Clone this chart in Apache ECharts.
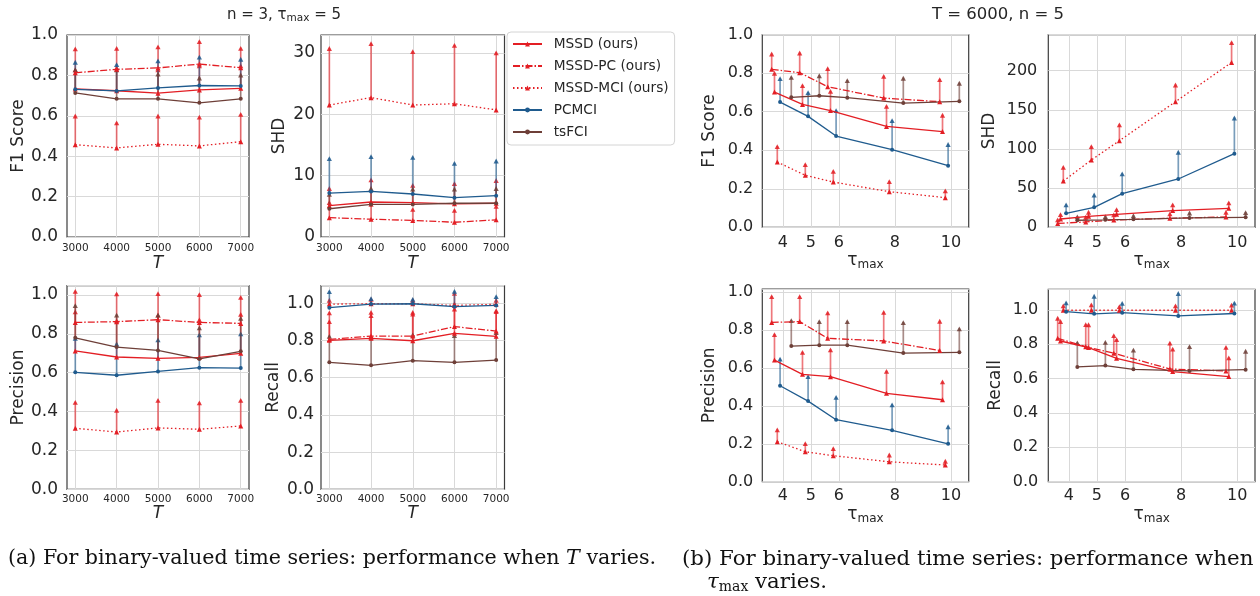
<!DOCTYPE html>
<html><head><meta charset="utf-8">
<script src="https://cdn.jsdelivr.net/npm/echarts@6/dist/echarts.min.js"></script>
<style>html,body{margin:0;padding:0;background:#fff}#c{width:1260px;height:596px}</style>
</head><body><div id="c"></div>
<script>
// ---------------- DATA ----------------
const METHODS = ['MSSD (ours)', 'MSSD-PC (ours)', 'MSSD-MCI (ours)', 'PCMCI', 'tsFCI'];
const T_VALUES = [3000, 4000, 5000, 6000, 7000];
const TAU_VALUES = [4, 5, 6, 8, 10];
const T_TICKS = [3000, 4000, 5000, 6000, 7000];
const TAU_TICKS = [4, 5, 6, 8, 10];
const TAU_OFFSET = [-0.3, -0.4, -0.2, -0.1, 0.3]; // per-method horizontal dodge (tau units)

// (a) T varies, n = 3, tau_max = 5 ; rows = METHODS, cols = T_VALUES
const T_F1_MEAN = [
  [0.733, 0.724, 0.712, 0.728, 0.736],
  [0.813, 0.830, 0.837, 0.856, 0.838],
  [0.457, 0.441, 0.459, 0.451, 0.472],
  [0.731, 0.723, 0.738, 0.750, 0.748],
  [0.713, 0.684, 0.684, 0.664, 0.684]
];
const T_F1_UPPER = [
  [0.830, 0.840, 0.830, 0.850, 0.850],
  [0.934, 0.937, 0.944, 0.970, 0.937],
  [0.602, 0.568, 0.602, 0.596, 0.610],
  [0.868, 0.856, 0.875, 0.893, 0.883],
  [0.830, 0.830, 0.810, 0.790, 0.805]
];
const T_SHD_MEAN = [
  [5.1, 5.7, 5.6, 5.4, 5.5],
  [3.15, 2.9, 2.7, 2.4, 2.8],
  [21.5, 22.7, 21.5, 21.7, 20.7],
  [7.16, 7.43, 7.0, 6.4, 6.73],
  [4.6, 5.3, 5.3, 5.5, 5.5]
];
const T_SHD_UPPER = [
  [8.0, 9.4, 8.5, 8.8, 9.3],
  [5.7, 5.4, 4.6, 4.45, 5.1],
  [30.8, 31.6, 30.3, 31.3, 30.1],
  [12.86, 13.2, 13.08, 12.1, 12.48],
  [7.05, 8.0, 7.9, 7.9, 8.0]
];
const T_PREC_MEAN = [
  [0.712, 0.681, 0.674, 0.679, 0.700],
  [0.859, 0.863, 0.873, 0.859, 0.854],
  [0.314, 0.295, 0.316, 0.309, 0.326],
  [0.602, 0.587, 0.607, 0.626, 0.624],
  [0.780, 0.732, 0.715, 0.671, 0.710]
];
const T_PREC_UPPER = [
  [0.916, 0.870, 0.900, 0.875, 0.904],
  [1.022, 1.009, 1.010, 1.005, 0.991],
  [0.451, 0.410, 0.461, 0.448, 0.461],
  [0.780, 0.751, 0.772, 0.798, 0.803],
  [0.949, 0.900, 0.900, 0.834, 0.883]
];
const T_REC_MEAN = [
  [0.801, 0.812, 0.799, 0.839, 0.823],
  [0.806, 0.824, 0.824, 0.875, 0.851],
  [0.996, 0.998, 0.998, 0.989, 0.995],
  [0.977, 0.996, 0.998, 0.982, 0.989],
  [0.683, 0.667, 0.692, 0.683, 0.695]
];
const T_REC_UPPER = [
  [0.905, 0.937, 0.946, 0.973, 0.964],
  [0.952, 0.955, 0.955, 1.000, 0.959],
  [1.020, 1.025, 1.020, 1.057, 1.020],
  [1.066, 1.029, 1.025, 1.068, 1.039],
  [0.826, 0.820, 0.833, 0.830, 0.846]
];

// (b) tau_max varies, T = 6000, n = 5 ; rows = METHODS, cols = TAU_VALUES
const TAU_F1_MEAN = [
  [0.702, 0.638, 0.606, 0.524, 0.497],
  [0.820, 0.803, 0.730, 0.671, 0.652],
  [0.339, 0.270, 0.235, 0.185, 0.154],
  [0.650, 0.576, 0.474, 0.403, 0.320],
  [0.675, 0.683, 0.673, 0.645, 0.654]
];
const TAU_F1_UPPER = [
  [0.803, 0.739, 0.709, 0.631, 0.585],
  [0.903, 0.908, 0.827, 0.787, 0.770],
  [0.422, 0.329, 0.294, 0.240, 0.192],
  [0.775, 0.702, 0.609, 0.557, 0.433],
  [0.782, 0.790, 0.765, 0.777, 0.751]
];
const TAU_SHD_MEAN = [
  [10.6, 14.0, 16.6, 21.3, 24.3],
  [5.0, 6.8, 9.4, 11.5, 13.2],
  [59, 86, 110.6, 160.4, 210.6],
  [17.9, 25.5, 43, 61.7, 94],
  [9.0, 9.5, 10.2, 12.0, 12.8]
];
const TAU_SHD_UPPER = [
  [17, 20, 23.4, 29.4, 32],
  [10.2, 13.6, 16.6, 17.9, 20],
  [77.4, 103.8, 131.5, 182.5, 236.6],
  [29.4, 42, 69, 96.6, 140.4],
  [14, 14.5, 15.5, 19, 19.5]
];
const TAU_PREC_MEAN = [
  [0.641, 0.566, 0.554, 0.466, 0.432],
  [0.840, 0.844, 0.756, 0.742, 0.692],
  [0.211, 0.158, 0.137, 0.105, 0.088],
  [0.506, 0.425, 0.327, 0.271, 0.200],
  [0.715, 0.720, 0.720, 0.678, 0.682]
];
const TAU_PREC_UPPER = [
  [0.779, 0.685, 0.698, 0.585, 0.529],
  [0.979, 0.979, 0.893, 0.896, 0.849],
  [0.276, 0.204, 0.178, 0.144, 0.111],
  [0.649, 0.557, 0.448, 0.408, 0.293],
  [0.852, 0.847, 0.847, 0.842, 0.809]
];
const TAU_REC_MEAN = [
  [0.819, 0.781, 0.718, 0.641, 0.612],
  [0.835, 0.786, 0.748, 0.656, 0.645],
  [0.998, 0.998, 0.998, 0.998, 0.998],
  [0.990, 0.977, 0.984, 0.965, 0.979],
  [0.668, 0.676, 0.654, 0.645, 0.652]
];
const TAU_REC_UPPER = [
  [0.936, 0.917, 0.831, 0.775, 0.724],
  [0.955, 0.918, 0.854, 0.810, 0.785],
  [1.027, 1.033, 1.023, 1.027, 1.031],
  [1.045, 1.083, 1.041, 1.099, 1.043],
  [0.812, 0.814, 0.769, 0.790, 0.763]
];

// ---------------- STYLE / LAYOUT ----------------
const RED = '#e31e24', BLUE = '#1f5b8e', BROWN = '#6e3f38';
const M_STYLE = [
  {color: RED, dash: 'solid', symbol: 'triangle'},
  {color: RED, dash: [7, 2, 1.5, 2], symbol: 'triangle'},
  {color: RED, dash: [1.5, 2.5], symbol: 'triangle'},
  {color: BLUE, dash: 'solid', symbol: 'circle'},
  {color: BROWN, dash: 'solid', symbol: 'circle'}
];
const FONT = 'DejaVu Sans';
const TXT = '#262626';

const PANELS = [
  {grid: {left: 67, top: 35, width: 182, height: 202}, xs: 'T', mean: T_F1_MEAN, upper: T_F1_UPPER, name: 'F1 Score', ymax: 1.0, yint: 0.2, dec: 1, nameGap: 40, labMargin: 9},
  {grid: {left: 321, top: 35, width: 183.5, height: 202}, xs: 'T', mean: T_SHD_MEAN, upper: T_SHD_UPPER, name: 'SHD', ymax: 32.9, yint: 10, dec: 0, nameGap: 33, labMargin: 6},
  {grid: {left: 67, top: 285.7, width: 182, height: 203.6}, xs: 'T', mean: T_PREC_MEAN, upper: T_PREC_UPPER, name: 'Precision', ymax: 1.048, yint: 0.2, dec: 1, nameGap: 40, labMargin: 9},
  {grid: {left: 321, top: 285.7, width: 183.5, height: 203.6}, xs: 'T', mean: T_REC_MEAN, upper: T_REC_UPPER, name: 'Recall', ymax: 1.095, yint: 0.2, dec: 1, nameGap: 39, labMargin: 7},
  {grid: {left: 762.3, top: 34.7, width: 206.4, height: 192.6}, xs: 'tau', mean: TAU_F1_MEAN, upper: TAU_F1_UPPER, name: 'F1 Score', ymax: 1.0, yint: 0.2, dec: 1, nameGap: 44, labMargin: 9},
  {grid: {left: 1048.3, top: 34.7, width: 206.7, height: 192.6}, xs: 'tau', mean: TAU_SHD_MEAN, upper: TAU_SHD_UPPER, name: 'SHD', ymax: 246, yint: 50, dec: 0, nameGap: 50, labMargin: 11},
  {grid: {left: 762.3, top: 289, width: 206.4, height: 192.7}, xs: 'tau', mean: TAU_PREC_MEAN, upper: TAU_PREC_UPPER, name: 'Precision', ymax: 1.016, yint: 0.2, dec: 1, nameGap: 44, labMargin: 9},
  {grid: {left: 1048.3, top: 289.3, width: 206.7, height: 192.4}, xs: 'tau', mean: TAU_REC_MEAN, upper: TAU_REC_UPPER, name: 'Recall', ymax: 1.12, yint: 0.2, dec: 1, nameGap: 44, labMargin: 10}
];

function errRender(color) {
  return function (params, api) {
    const x = api.value(0), y0 = api.value(1), y1 = api.value(2);
    const p0 = api.coord([x, y0]);
    const p1 = api.coord([x, y1]);
    return {
      type: 'group',
      children: [
        {type: 'line', shape: {x1: p0[0], y1: p0[1], x2: p1[0], y2: p1[1]},
          style: {stroke: color, lineWidth: 1.7, opacity: 0.6}},
        {type: 'polygon', shape: {points: [[p1[0] - 2.6, p1[1] + 3], [p1[0], p1[1] - 1.8], [p1[0] + 2.6, p1[1] + 3]]},
          style: {fill: color, opacity: 0.85}}
      ]
    };
  };
}

const grids = [], xAxes = [], yAxes = [], series = [];
PANELS.forEach((P, gi) => {
  grids.push(Object.assign({show: true, borderColor: '#3c3c3c', borderWidth: 1.2, backgroundColor: 'transparent'}, P.grid));
  const isT = P.xs === 'T';
  const ticks = isT ? T_TICKS : TAU_TICKS;
  xAxes.push({
    type: 'value', gridIndex: gi,
    min: isT ? 2800 : 3.265, max: isT ? 7200 : 10.635,
    axisLine: {show: false}, axisTick: {show: false, customValues: ticks},
    axisLabel: {customValues: ticks, fontSize: isT ? 10.5 : 16, fontFamily: FONT, color: TXT,
      margin: isT ? (gi < 2 ? 6 : 4) : (gi < 6 ? 8 : 6),
      formatter: function (v) { return String(v); }},
    splitLine: {show: true, lineStyle: {color: '#d9d9d9', width: 1}},
    name: isT ? 'T' : '{t|τ}{s|max}', nameLocation: 'middle',
    nameGap: isT ? (gi < 2 ? 13 : 12) : (gi < 6 ? 20 : 22),
    nameTextStyle: isT ? {fontSize: 17, fontStyle: 'italic', fontFamily: FONT, color: TXT}
      : {color: TXT, fontFamily: FONT, rich: {t: {fontSize: 17, fontFamily: FONT, color: TXT}, s: {fontSize: 12, fontFamily: FONT, color: TXT, padding: [9, 0, 0, 0]}}}
  });
  yAxes.push({
    type: 'value', gridIndex: gi, min: 0, max: P.ymax, interval: P.yint,
    axisLine: {show: false}, axisTick: {show: false},
    axisLabel: {fontSize: isT ? 17 : 16, fontFamily: FONT, color: TXT, margin: P.labMargin,
      formatter: function (v) {
        const k = v / P.yint;
        if (Math.abs(k - Math.round(k)) > 1e-6) return '';
        return v.toFixed(P.dec);
      }},
    splitLine: {show: true, lineStyle: {color: '#d9d9d9', width: 1}},
    name: P.name, nameLocation: 'middle', nameGap: P.nameGap,
    nameTextStyle: {fontSize: 17, fontFamily: FONT, color: TXT}
  });
  const xv = isT ? T_VALUES : TAU_VALUES;
  METHODS.forEach((m, mi) => {
    const st = M_STYLE[mi];
    const off = isT ? 0 : TAU_OFFSET[mi];
    const pts = xv.map((x, j) => [x + off, P.mean[mi][j]]);
    const errs = xv.map((x, j) => [x + off, P.mean[mi][j], P.upper[mi][j]]);
    series.push({
      type: 'custom', name: m + ' err', xAxisIndex: gi, yAxisIndex: gi,
      renderItem: errRender(st.color), data: errs, encode: {x: 0, y: [1, 2]}, clip: false, z: 2, silent: true
    });
    series.push({
      type: 'line', name: m, xAxisIndex: gi, yAxisIndex: gi, data: pts,
      symbol: st.symbol, symbolSize: st.symbol === 'triangle' ? 5 : 4, showSymbol: true,
      lineStyle: {color: st.color, width: 1.3, type: st.dash},
      itemStyle: {color: st.color, borderWidth: 0},
      z: 3, animation: false, silent: true
    });
  });
});

const option = {
  animation: false,
  backgroundColor: '#ffffff',
  grid: grids, xAxis: xAxes, yAxis: yAxes, series: series,
  legend: {
    data: METHODS, orient: 'vertical', left: 507, top: 32,
    itemWidth: 29, itemHeight: 6, itemGap: 8,
    padding: [5, 6, 6, 5],
    borderColor: '#d4d4d4', borderWidth: 1, borderRadius: 4, backgroundColor: '#ffffff',
    textStyle: {fontSize: 13.7, fontFamily: FONT, color: TXT, padding: [0, 0, 0, 6.7]},
    selectedMode: false
  },
  graphic: [
    {type: 'text', x: 284, y: 15, style: {text: '{a|n = 3, }{a|τ}{s|max}{a| = 5}', textAlign: 'center', textVerticalAlign: 'middle',
      rich: {a: {fontSize: 15, fontFamily: FONT, fill: TXT}, s: {fontSize: 10.5, fontFamily: FONT, fill: TXT, padding: [7, 0, 0, 0]}}}},
    {type: 'text', x: 998, y: 15, style: {text: 'T = 6000, n = 5', textAlign: 'center', textVerticalAlign: 'middle',
      font: '16.5px "DejaVu Sans"', fill: TXT}},
    {type: 'text', x: 8, y: 559, style: {text: '{r|(a) For binary-valued time series: performance when }{i|T}{r| varies.}', textVerticalAlign: 'middle',
      rich: {r: {fontSize: 20.6, fontFamily: 'DejaVu Serif', fill: '#111'}, i: {fontSize: 20.6, fontFamily: 'DejaVu Serif', fontStyle: 'italic', fill: '#111'}}}},
    {type: 'text', x: 682, y: 559, style: {text: '(b) For binary-valued time series: performance when', textVerticalAlign: 'middle',
      font: '21.3px "DejaVu Serif"', fill: '#111'}},
    {type: 'text', x: 707, y: 582, style: {text: '{i|τ}{s|max}{r| varies.}', textVerticalAlign: 'middle',
      rich: {r: {fontSize: 21.3, fontFamily: 'DejaVu Serif', fill: '#111'}, i: {fontSize: 21.3, fontFamily: 'DejaVu Serif', fontStyle: 'italic', fill: '#111'},
        s: {fontSize: 14, fontFamily: 'DejaVu Serif', fill: '#111', padding: [10, 0, 0, 0]}}}}
  ]
};

const chart = echarts.init(document.getElementById('c'), null, {renderer: 'canvas', width: 1260, height: 596});
chart.setOption(option);
</script></body></html>
